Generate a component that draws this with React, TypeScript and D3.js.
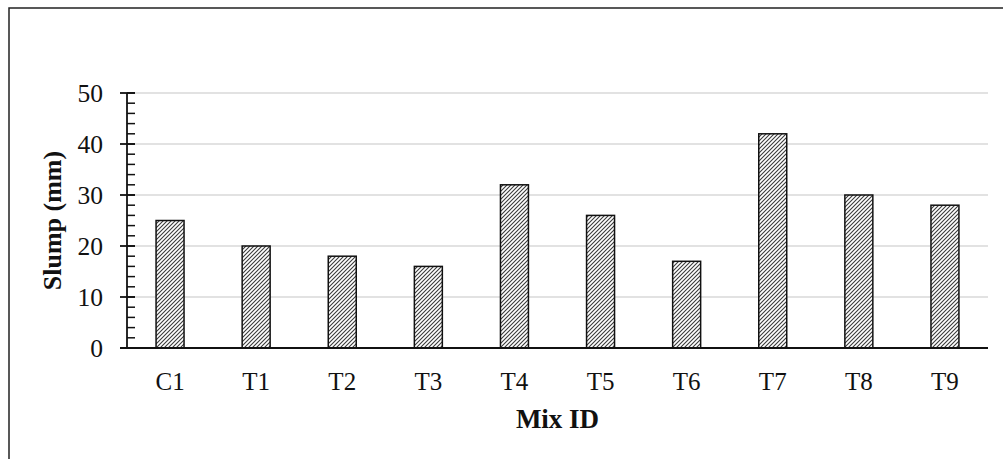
import React from "react";
import * as d3 from "d3";

const categories = ["C1", "T1", "T2", "T3", "T4", "T5", "T6", "T7", "T8", "T9"];
const slump = [25, 20, 18, 16, 32, 26, 17, 42, 30, 28];
const majorTicks = [0, 10, 20, 30, 40, 50];
const minorTicks = d3.range(0, 51, 2);

const W = 1003;
const H = 459;
const left = 127;
const right = 988;
const top = 93;
const bottom = 348;

export default function App() {
  const x = d3.scaleBand<string>().domain(categories).range([left, right]).paddingInner(0.675).paddingOuter(0.3375);
  const y = d3.scaleLinear().domain([0, 50]).range([bottom, top]);
  const font = "'Liberation Serif', 'Times New Roman', serif";
  return (
    <svg width={W} height={H} style={{ position: "absolute", left: 0, top: 0, background: "#fff" }}>
      <defs>
        <pattern id="hatch" patternUnits="userSpaceOnUse" width={4} height={4}>
          <rect width={4} height={4} fill="#fff" />
          <path d="M-1,1 l2,-2 M0,4 l4,-4 M3,5 l2,-2" stroke="#3a3a3a" strokeWidth={1.1} />
        </pattern>
      </defs>
      <rect x={9} y={8} width={W} height={H} fill="none" stroke="#222" strokeWidth={1.5} />
      {majorTicks.filter((t) => t > 0).map((t) => (
        <line key={"g" + t} x1={left} x2={right} y1={y(t)} y2={y(t)} stroke="#d9d9d9" strokeWidth={1.5} />
      ))}
      {categories.map((c, i) => (
        <rect
          key={c}
          x={x(c)}
          y={y(slump[i])}
          width={x.bandwidth()}
          height={bottom - y(slump[i])}
          fill="url(#hatch)"
          stroke="#111"
          strokeWidth={1.5}
        />
      ))}
      {minorTicks.map((t) => (
        <line key={"m" + t} x1={left} x2={left + 8} y1={y(t)} y2={y(t)} stroke="#111" strokeWidth={1.5} />
      ))}
      {majorTicks.map((t) => (
        <line key={"M" + t} x1={left - 7} x2={left + 8} y1={y(t)} y2={y(t)} stroke="#111" strokeWidth={1.8} />
      ))}
      <line x1={left} x2={left} y1={top} y2={bottom} stroke="#111" strokeWidth={1.8} />
      <line x1={left - 7} x2={right} y1={bottom} y2={bottom} stroke="#111" strokeWidth={1.8} />
      {majorTicks.map((t) => (
        <text key={"l" + t} x={103} y={y(t)} dy="0.34em" textAnchor="end" fontFamily={font} fontSize={25.5} fill="#111">
          {t}
        </text>
      ))}
      {categories.map((c) => (
        <text key={"x" + c} x={(x(c) as number) + x.bandwidth() / 2} y={390} textAnchor="middle" fontFamily={font} fontSize={25} fill="#111">
          {c}
        </text>
      ))}
      <text x={(left + right) / 2} y={428} textAnchor="middle" fontFamily={font} fontSize={27} fontWeight="bold" fill="#111">
        Mix ID
      </text>
      <text
        transform={`translate(61,${(top + bottom) / 2}) rotate(-90)`}
        textAnchor="middle"
        fontFamily={font}
        fontSize={26}
        fontWeight="bold"
        fill="#111"
      >
        Slump (mm)
      </text>
    </svg>
  );
}
